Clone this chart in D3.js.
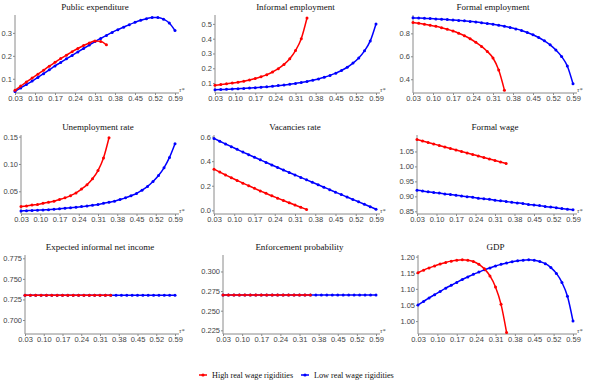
<!DOCTYPE html>
<html>
<head>
<meta charset="utf-8">
<script src="https://cdn.jsdelivr.net/npm/d3@7"></script>
<style>
  body { margin: 0; background: #fff; }
  svg { display: block; font-family: "Liberation Serif", "DejaVu Serif", serif; }
  .tick text { fill: #444; }
</style>
</head>
<body>
<div id="chart"></div>
<script>
// div size (frame)
const FRAME_WIDTH = 589;
const FRAME_HEIGHT = 388;

// tax rate grid (x values) for both regimes
const X_HIGH = [0.03, 0.05, 0.07, 0.09, 0.11, 0.13, 0.15, 0.17, 0.19, 0.21, 0.23, 0.25, 0.27, 0.29, 0.31, 0.33, 0.35];
const X_LOW = [0.03, 0.05, 0.07, 0.09, 0.11, 0.13, 0.15, 0.17, 0.19, 0.21, 0.23, 0.25, 0.27, 0.29, 0.31, 0.33, 0.35,
               0.37, 0.39, 0.41, 0.43, 0.45, 0.47, 0.49, 0.51, 0.53, 0.55, 0.57, 0.59];
const X_TICKS = [0.03, 0.10, 0.17, 0.24, 0.31, 0.38, 0.45, 0.52, 0.59];

const SERIES_NAMES = ["High real wage rigidities", "Low real wage rigidities"];

// series values
const PUB_HIGH = [0.050, 0.068, 0.086, 0.103, 0.120, 0.137, 0.155, 0.172, 0.188, 0.203, 0.218, 0.232, 0.245, 0.256, 0.265, 0.263, 0.248];
const PUB_LOW = [0.045, 0.060, 0.075, 0.090, 0.106, 0.122, 0.139, 0.156, 0.171, 0.187, 0.202, 0.217, 0.232, 0.247, 0.262, 0.276, 0.289,
                 0.302, 0.314, 0.325, 0.336, 0.346, 0.355, 0.362, 0.367, 0.367, 0.360, 0.343, 0.310];

const INF_HIGH = [0.085, 0.090, 0.095, 0.100, 0.106, 0.113, 0.121, 0.131, 0.143, 0.157, 0.175, 0.197, 0.226, 0.265, 0.320, 0.400, 0.540];
const INF_LOW = [0.055, 0.056, 0.058, 0.060, 0.062, 0.064, 0.066, 0.069, 0.072, 0.075, 0.079, 0.083, 0.087, 0.092, 0.098, 0.104, 0.111,
                 0.119, 0.128, 0.139, 0.152, 0.167, 0.185, 0.207, 0.235, 0.270, 0.318, 0.385, 0.500];

const FORM_HIGH = [0.895, 0.888, 0.880, 0.871, 0.861, 0.849, 0.836, 0.820, 0.801, 0.779, 0.753, 0.722, 0.686, 0.642, 0.585, 0.480, 0.305];
const FORM_LOW = [0.935, 0.933, 0.931, 0.929, 0.926, 0.923, 0.920, 0.917, 0.913, 0.909, 0.904, 0.899, 0.893, 0.886, 0.879, 0.871, 0.862,
                  0.851, 0.839, 0.825, 0.808, 0.788, 0.764, 0.735, 0.700, 0.655, 0.598, 0.515, 0.360];

const UNEMP_HIGH = [0.022, 0.023, 0.025, 0.026, 0.028, 0.030, 0.032, 0.035, 0.038, 0.042, 0.047, 0.054, 0.062, 0.073, 0.088, 0.111, 0.148];
const UNEMP_LOW = [0.0140, 0.0145, 0.0150, 0.0155, 0.0160, 0.0165, 0.0170, 0.0180, 0.0190, 0.0200, 0.0210, 0.0220, 0.0230, 0.0245, 0.0260, 0.0280, 0.0300,
                   0.032, 0.035, 0.038, 0.042, 0.046, 0.052, 0.059, 0.068, 0.079, 0.093, 0.112, 0.137];

const VAC_HIGH = [0.335, 0.311, 0.288, 0.265, 0.243, 0.221, 0.200, 0.179, 0.158, 0.138, 0.118, 0.099, 0.080, 0.061, 0.043, 0.025, 0.007];
const VAC_LOW = [0.585, 0.562, 0.540, 0.518, 0.496, 0.474, 0.453, 0.432, 0.411, 0.390, 0.369, 0.349, 0.328, 0.308, 0.288, 0.268, 0.248,
                 0.228, 0.208, 0.188, 0.168, 0.148, 0.128, 0.108, 0.089, 0.069, 0.049, 0.029, 0.009];

const WAGE_HIGH = [1.090, 1.085, 1.080, 1.075, 1.070, 1.065, 1.060, 1.055, 1.050, 1.045, 1.040, 1.035, 1.030, 1.025, 1.020, 1.015, 1.010];
const WAGE_LOW = [0.920, 0.918, 0.915, 0.913, 0.911, 0.908, 0.906, 0.904, 0.901, 0.899, 0.897, 0.894, 0.892, 0.890, 0.887, 0.885, 0.883,
                  0.880, 0.878, 0.876, 0.873, 0.871, 0.869, 0.866, 0.864, 0.862, 0.859, 0.857, 0.855];

const EXP_HIGH = [0.73, 0.73, 0.73, 0.73, 0.73, 0.73, 0.73, 0.73, 0.73, 0.73, 0.73, 0.73, 0.73, 0.73, 0.73, 0.73, 0.73];
const EXP_LOW = [0.73, 0.73, 0.73, 0.73, 0.73, 0.73, 0.73, 0.73, 0.73, 0.73, 0.73, 0.73, 0.73, 0.73, 0.73, 0.73, 0.73,
                 0.73, 0.73, 0.73, 0.73, 0.73, 0.73, 0.73, 0.73, 0.73, 0.73, 0.73, 0.73];

const ENF_HIGH = [0.27, 0.27, 0.27, 0.27, 0.27, 0.27, 0.27, 0.27, 0.27, 0.27, 0.27, 0.27, 0.27, 0.27, 0.27, 0.27, 0.27];
const ENF_LOW = [0.27, 0.27, 0.27, 0.27, 0.27, 0.27, 0.27, 0.27, 0.27, 0.27, 0.27, 0.27, 0.27, 0.27, 0.27, 0.27, 0.27,
                 0.27, 0.27, 0.27, 0.27, 0.27, 0.27, 0.27, 0.27, 0.27, 0.27, 0.27, 0.27];

const GDP_HIGH = [1.150, 1.158, 1.165, 1.171, 1.177, 1.182, 1.186, 1.189, 1.190, 1.189, 1.185, 1.176, 1.162, 1.140, 1.106, 1.052, 0.965];
const GDP_LOW = [1.050, 1.061, 1.072, 1.082, 1.092, 1.102, 1.111, 1.120, 1.129, 1.137, 1.145, 1.152, 1.159, 1.165, 1.171, 1.176, 1.180,
                 1.184, 1.187, 1.189, 1.190, 1.189, 1.185, 1.178, 1.166, 1.148, 1.120, 1.077, 1.000];

// panel titles and y tick labels
const TITLES = ["Public expenditure", "Informal employment", "Formal employment",
                "Unemployment rate", "Vacancies rate", "Formal wage",
                "Expected informal net income", "Enforcement probability", "GDP"];
const Y_TICKS = [
  [0.1, 0.2, 0.3],
  [0.1, 0.2, 0.3, 0.4, 0.5],
  [0.4, 0.6, 0.8],
  [0.05, 0.10, 0.15],
  [0.0, 0.2, 0.4, 0.6],
  [0.85, 0.90, 0.95, 1.00, 1.05],
  [0.700, 0.725, 0.750, 0.775],
  [0.225, 0.250, 0.275, 0.300],
  [1.00, 1.05, 1.10, 1.15, 1.20]
];

// panel options (scales and layout), built from the arrays above
const PANELS = [
  {high: PUB_HIGH, low: PUB_LOW, dom: [0.038, 0.378], fmt: ".1f", left: 15},
  {high: INF_HIGH, low: INF_LOW, dom: [0.033, 0.56], fmt: ".1f", left: 215},
  {high: FORM_HIGH, low: FORM_LOW, dom: [0.28, 0.96], fmt: ".1f", left: 413},
  {high: UNEMP_HIGH, low: UNEMP_LOW, dom: [0.0085, 0.153], fmt: ".2f", left: 21},
  {high: VAC_HIGH, low: VAC_LOW, dom: [-0.03, 0.613], fmt: ".1f", left: 214},
  {high: WAGE_HIGH, low: WAGE_LOW, dom: [0.841, 1.105], fmt: ".2f", left: 417},
  {high: EXP_HIGH, low: EXP_LOW, dom: [0.683, 0.779], fmt: ".3f", left: 25},
  {high: ENF_HIGH, low: ENF_LOW, dom: [0.2203, 0.321], fmt: ".3f", left: 223},
  {high: GDP_HIGH, low: GDP_LOW, dom: [0.96, 1.205], fmt: ".2f", left: 418}
];
const COL_RIGHT = [175, 376, 573];
const ROW_TOP = [15, 135, 255];
const ROW_BOTTOM = [93, 214, 334];
const COLORS = ["#ff0000", "#0000ff"];
const AXIS_COLOR = "#8a8a8a";

const SVG = d3.select("#chart")
              .append("svg")
                .attr("width", FRAME_WIDTH)
                .attr("height", FRAME_HEIGHT);

PANELS.forEach((p, i) => {
  const col = i % 3;
  const row = Math.floor(i / 3);
  const right = COL_RIGHT[col];
  const top = ROW_TOP[row];
  const bottom = ROW_BOTTOM[row];

  const X_SCALE = d3.scaleLinear().domain([0.03, 0.59]).range([p.left, right]);
  const Y_SCALE = d3.scaleLinear().domain(p.dom).range([bottom, top]);

  const g = SVG.append("g");

  // title
  g.append("text")
     .attr("x", (p.left + right) / 2)
     .attr("y", top - 5)
     .attr("text-anchor", "middle")
     .attr("font-size", "9px")
     .attr("fill", "#111")
     .text(TITLES[i]);

  // x-axis
  const xAxis = g.append("g")
                  .attr("transform", "translate(0," + bottom + ")")
                  .call(d3.axisBottom(X_SCALE).tickValues(X_TICKS).tickFormat(d3.format(".2f")).tickSize(2).tickPadding(1));
  xAxis.select(".domain").remove();
  xAxis.selectAll(".tick line").attr("stroke", AXIS_COLOR);
  xAxis.selectAll("text").attr("font-size", "7.5px");

  g.append("line")
     .attr("x1", p.left).attr("x2", right + 4)
     .attr("y1", bottom).attr("y2", bottom)
     .attr("stroke", AXIS_COLOR).attr("stroke-width", 1);

  g.append("text")
     .attr("x", right + 4)
     .attr("y", bottom - 1)
     .attr("font-size", "6.5px")
     .attr("fill", "#444")
     .attr("font-style", "italic")
     .text("τ*");

  // y-axis
  const yAxis = g.append("g")
                  .attr("transform", "translate(" + p.left + ",0)")
                  .call(d3.axisLeft(Y_SCALE).tickValues(Y_TICKS[i]).tickFormat(d3.format(p.fmt)).tickSize(2).tickPadding(1));
  yAxis.select(".domain").remove();
  yAxis.selectAll(".tick line").attr("stroke", AXIS_COLOR);
  yAxis.selectAll("text").attr("font-size", "7.5px");

  g.append("line")
     .attr("x1", p.left).attr("x2", p.left)
     .attr("y1", top).attr("y2", bottom)
     .attr("stroke", AXIS_COLOR).attr("stroke-width", 1);

  // lines and points (low first so red sits on top in flat panels)
  const series = [
    {xs: X_LOW, ys: p.low, color: COLORS[1]},
    {xs: X_HIGH, ys: p.high, color: COLORS[0]}
  ];
  series.forEach((s) => {
    const pts = s.xs.map((x, k) => [x, s.ys[k]]);
    const line = d3.line()
                   .x((d) => X_SCALE(d[0]))
                   .y((d) => Y_SCALE(d[1]))
                   .curve(d3.curveMonotoneX);
    g.append("path")
       .datum(pts)
       .attr("d", line)
       .attr("fill", "none")
       .attr("stroke", s.color)
       .attr("stroke-width", 1.5);
    g.selectAll(null)
       .data(pts)
       .enter()
       .append("circle")
         .attr("cx", (d) => X_SCALE(d[0]))
         .attr("cy", (d) => Y_SCALE(d[1]))
         .attr("r", 1.5)
         .attr("fill", s.color);
  });
});

// legend
const LEGEND_X = [199, 301];
SERIES_NAMES.forEach((name, i) => {
  const lg = SVG.append("g").attr("transform", "translate(" + LEGEND_X[i] + ",375)");
  lg.append("line").attr("x1", 0).attr("x2", 8).attr("y1", 0).attr("y2", 0)
    .attr("stroke", COLORS[i]).attr("stroke-width", 1.5);
  lg.append("circle").attr("cx", 4).attr("cy", 0).attr("r", 1.6).attr("fill", COLORS[i]);
  lg.append("text").attr("x", 13).attr("y", 2.5)
    .attr("font-size", "8.2px").attr("fill", "#111")
    .text(name);
});
</script>
</body>
</html>
